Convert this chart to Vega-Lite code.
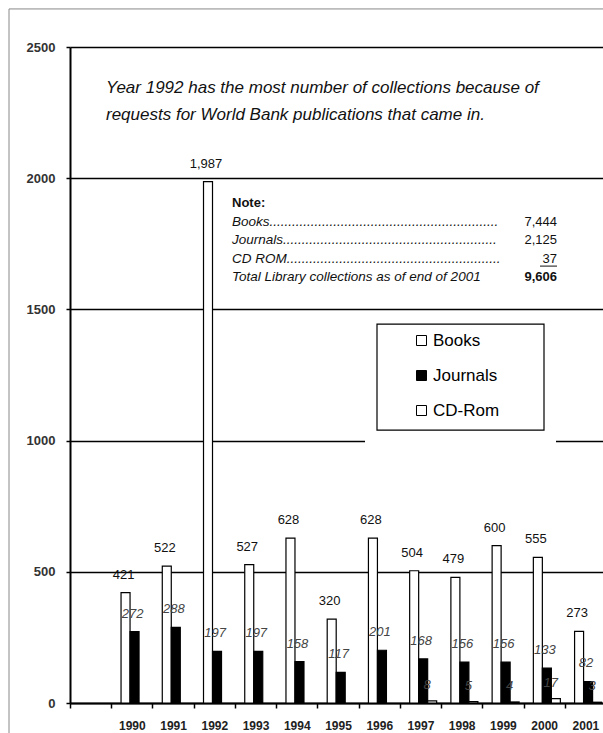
{
  "$schema": "https://vega.github.io/schema/vega-lite/v6.json",
  "width": 536,
  "height": 656,
  "autosize": "none",
  "padding": {"left": 70, "top": 47, "right": 0, "bottom": 30},
  "background": "white",
  "config": {"view": {"stroke": null}, "font": "Liberation Sans"},
  "datasets": {
    "collections": [
      {"year": "1990", "series": "Books", "value": 421},
      {"year": "1991", "series": "Books", "value": 522},
      {"year": "1992", "series": "Books", "value": 1987},
      {"year": "1993", "series": "Books", "value": 527},
      {"year": "1994", "series": "Books", "value": 628},
      {"year": "1995", "series": "Books", "value": 320},
      {"year": "1996", "series": "Books", "value": 628},
      {"year": "1997", "series": "Books", "value": 504},
      {"year": "1998", "series": "Books", "value": 479},
      {"year": "1999", "series": "Books", "value": 600},
      {"year": "2000", "series": "Books", "value": 555},
      {"year": "2001", "series": "Books", "value": 273},
      {"year": "1990", "series": "Journals", "value": 272},
      {"year": "1991", "series": "Journals", "value": 288},
      {"year": "1992", "series": "Journals", "value": 197},
      {"year": "1993", "series": "Journals", "value": 197},
      {"year": "1994", "series": "Journals", "value": 158},
      {"year": "1995", "series": "Journals", "value": 117},
      {"year": "1996", "series": "Journals", "value": 201},
      {"year": "1997", "series": "Journals", "value": 168},
      {"year": "1998", "series": "Journals", "value": 156},
      {"year": "1999", "series": "Journals", "value": 156},
      {"year": "2000", "series": "Journals", "value": 133},
      {"year": "2001", "series": "Journals", "value": 82},
      {"year": "1997", "series": "CD-Rom", "value": 8},
      {"year": "1998", "series": "CD-Rom", "value": 5},
      {"year": "1999", "series": "CD-Rom", "value": 4},
      {"year": "2000", "series": "CD-Rom", "value": 17},
      {"year": "2001", "series": "CD-Rom", "value": 3}
    ]
  },
  "resolve": {"scale": {"x": "independent"}},
  "layer": [
    {
      "data": {"values": [{}]},
      "layer": [
        {
          "mark": {"type": "rect", "fill": null, "stroke": "#888888", "strokeWidth": 1},
          "encoding": {
            "x": {"datum": -61, "type": "quantitative", "scale": {"domain": [0, 536], "nice": false, "zero": false}, "axis": null},
            "x2": {"datum": 700},
            "y": {"datum": 2645, "type": "quantitative"},
            "y2": {"datum": -500}
          }
        },
        {
          "mark": {"type": "rect", "fill": "white", "stroke": null},
          "encoding": {
            "x": {"datum": 295, "type": "quantitative"},
            "x2": {"datum": 486},
            "y": {"datum": 1467, "type": "quantitative"},
            "y2": {"datum": 991}
          }
        },
        {
          "mark": {"type": "rect", "fill": null, "stroke": "black", "strokeWidth": 1.2},
          "encoding": {
            "x": {"datum": 307, "type": "quantitative"},
            "x2": {"datum": 474},
            "y": {"datum": 1444, "type": "quantitative"},
            "y2": {"datum": 1040}
          }
        },
        {
          "mark": {"type": "text", "text": ["Year 1992 has the most number of collections because of", "requests for World Bank publications that came in."], "align": "left", "baseline": "middle", "font": "Liberation Sans", "fontStyle": "italic", "fontSize": 17, "lineHeight": 27, "color": "#111"},
          "encoding": {
            "x": {"datum": 36, "type": "quantitative"},
            "y": {"datum": 2344, "type": "quantitative"}
          }
        },
        {
          "mark": {"type": "text", "text": "Note:", "align": "left", "baseline": "middle", "font": "Liberation Sans", "fontWeight": "bold", "fontSize": 13, "color": "#111"},
          "encoding": {
            "x": {"datum": 162, "type": "quantitative"},
            "y": {"datum": 1905, "type": "quantitative"}
          }
        },
        {
          "mark": {"type": "text", "text": ["Books.............................................................", "Journals.........................................................", "CD ROM.........................................................", "Total Library collections as of end of 2001"], "align": "left", "baseline": "middle", "font": "Liberation Sans", "fontStyle": "italic", "fontSize": 13.5, "lineHeight": 18.3, "color": "#111"},
          "encoding": {
            "x": {"datum": 162, "type": "quantitative"},
            "y": {"datum": 1833, "type": "quantitative"}
          }
        },
        {
          "mark": {"type": "text", "text": ["7,444", "2,125", "37"], "align": "right", "baseline": "middle", "font": "Liberation Sans", "fontSize": 13, "lineHeight": 18.3, "color": "#111"},
          "encoding": {
            "x": {"datum": 487, "type": "quantitative"},
            "y": {"datum": 1833, "type": "quantitative"}
          }
        },
        {
          "mark": {"type": "text", "text": "9,606", "align": "right", "baseline": "middle", "font": "Liberation Sans", "fontWeight": "bold", "fontSize": 13, "color": "#111"},
          "encoding": {
            "x": {"datum": 487, "type": "quantitative"},
            "y": {"datum": 1623, "type": "quantitative"}
          }
        },
        {
          "mark": {"type": "rule", "stroke": "#111", "strokeWidth": 1},
          "encoding": {
            "x": {"datum": 470, "type": "quantitative"},
            "x2": {"datum": 487},
            "y": {"datum": 1665, "type": "quantitative"}
          }
        }
      ]
    },
    {
      "data": {"name": "collections"},
      "layer": [
        {
          "mark": {"type": "bar", "stroke": "black", "strokeWidth": 1.2},
          "encoding": {
            "x": {
              "field": "year", "type": "nominal",
              "scale": {"domain": ["", "1990", "1991", "1992", "1993", "1994", "1995", "1996", "1997", "1998", "1999", "2000", "2001"], "paddingInner": 0, "paddingOuter": 0},
              "axis": {"orient": "bottom", "title": null, "tickBand": "extent", "labelAngle": 0, "domainColor": "black", "domainWidth": 2, "tickColor": "black", "tickSize": 5, "tickWidth": 1.5, "labelFont": "Liberation Sans", "labelFontWeight": "bold", "labelFontSize": 12, "labelColor": "#222", "labelPadding": 12, "grid": false}
            },
            "xOffset": {"field": "series", "type": "nominal", "scale": {"domain": ["Books", "Journals", "CD-Rom"], "paddingInner": 0, "paddingOuter": 0.79, "align": 0.69}},
            "y": {
              "field": "value", "type": "quantitative",
              "scale": {"domain": [0, 2500], "nice": false},
              "axis": {"title": null, "values": [0, 500, 1000, 1500, 2000, 2500], "format": "d", "grid": true, "gridColor": "black", "gridWidth": 1.5, "domainColor": "black", "domainWidth": 2, "tickColor": "black", "tickSize": 4, "tickWidth": 1.5, "labelFont": "Liberation Sans", "labelFontWeight": "bold", "labelFontSize": 13, "labelColor": "#333", "labelPadding": 11}
            },
            "fill": {
              "field": "series", "type": "nominal",
              "scale": {"domain": ["Books", "Journals", "CD-Rom"], "range": ["white", "black", "white"]},
              "legend": {"orient": "none", "legendX": 343, "legendY": 285, "title": null, "symbolType": "square", "symbolSize": 100, "symbolStrokeColor": "black", "symbolStrokeWidth": 1, "labelFontSize": 17, "labelFont": "Liberation Sans", "labelColor": "black", "labelOffset": 3, "rowPadding": 17, "padding": 0}
            }
          }
        },
        {
          "transform": [{"filter": "datum.series === 'Books'"}],
          "mark": {"type": "text", "baseline": "bottom", "dy": -11, "dx": -2, "font": "Liberation Sans", "fontSize": 13, "color": "#111"},
          "encoding": {
            "x": {"field": "year", "type": "nominal"},
            "xOffset": {"field": "series", "type": "nominal"},
            "y": {"field": "value", "type": "quantitative"},
            "text": {"field": "value", "type": "quantitative", "format": ","}
          }
        },
        {
          "transform": [{"filter": "datum.series === 'Journals'"}],
          "mark": {"type": "text", "baseline": "bottom", "dy": -11, "dx": -2, "font": "Liberation Sans", "fontStyle": "italic", "fontSize": 13, "color": "#444"},
          "encoding": {
            "x": {"field": "year", "type": "nominal"},
            "xOffset": {"field": "series", "type": "nominal"},
            "y": {"field": "value", "type": "quantitative"},
            "text": {"field": "value", "type": "quantitative"}
          }
        },
        {
          "transform": [{"filter": "datum.series === 'CD-Rom'"}],
          "mark": {"type": "text", "baseline": "bottom", "dy": -9, "dx": -5, "font": "Liberation Sans", "fontStyle": "italic", "fontSize": 13, "color": "#444"},
          "encoding": {
            "x": {"field": "year", "type": "nominal"},
            "xOffset": {"field": "series", "type": "nominal"},
            "y": {"field": "value", "type": "quantitative"},
            "text": {"field": "value", "type": "quantitative"}
          }
        }
      ]
    }
  ]
}
